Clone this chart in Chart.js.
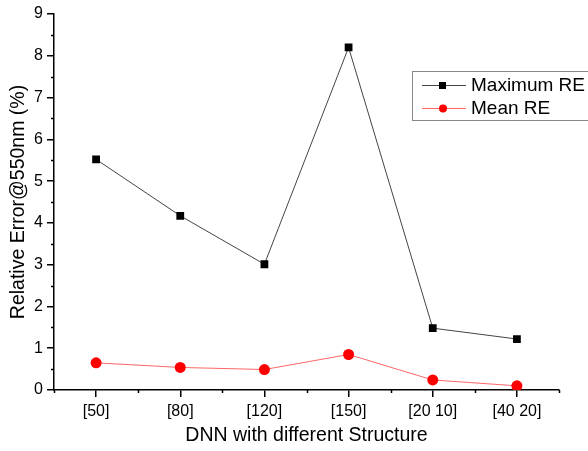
<!DOCTYPE html>
<html>
<head>
<meta charset="utf-8">
<script src="https://cdn.jsdelivr.net/npm/chart.js@4.4.0/dist/chart.umd.min.js"></script>
<style>
  html, body { margin: 0; padding: 0; background: #fff; }
  #wrap { width: 588px; height: 451px; }
</style>
</head>
<body>
<div id="wrap"><canvas id="reChart" width="588" height="451"></canvas></div>
<script>
// data
var structures = ["[50]", "[80]", "[120]", "[150]", "[20 10]", "[40 20]"];
var maxRE = [5.52, 4.17, 3.01, 8.2, 1.48, 1.22];
var meanRE = [0.65, 0.54, 0.49, 0.85, 0.24, 0.10];
var yTicks = [0, 1, 2, 3, 4, 5, 6, 7, 8, 9];

var fam = 'Arial, "Liberation Sans", sans-serif';

// minor ticks like Origin draws them
var minorTicks = {
  id: 'minorTicks',
  afterDraw: function (chart) {
    var ctx = chart.ctx;
    var x = chart.scales.x, y = chart.scales.y;
    ctx.save();
    ctx.strokeStyle = '#000';
    ctx.lineWidth = 1.5;
    ctx.beginPath();
    for (var v = 0.5; v < 9; v += 1) {
      var py = Math.round(y.getPixelForValue(v)) + 0.5;
      ctx.moveTo(x.left - 3, py);
      ctx.lineTo(x.left, py);
    }
    for (var i = 0; i <= structures.length; i++) {
      var px = Math.round(x.getPixelForValue(i - 0.5)) + 0.5;
      ctx.moveTo(px, y.bottom);
      ctx.lineTo(px, y.bottom + 3);
    }
    ctx.stroke();
    ctx.restore();
  }
};

// boxed legend inside the plot, top right
var boxLegend = {
  id: 'boxLegend',
  afterDraw: function (chart) {
    var ctx = chart.ctx;
    var bx = 412, by = 71, bw = 190, bh = 49;
    ctx.save();
    ctx.fillStyle = '#fff';
    ctx.fillRect(bx, by, bw, bh);
    ctx.strokeStyle = '#888';
    ctx.lineWidth = 1;
    ctx.strokeRect(bx + 0.5, by + 0.5, bw, bh);
    ctx.font = '19px ' + fam;
    ctx.textBaseline = 'middle';
    chart.data.datasets.forEach(function (ds, i) {
      var cy = by + 14 + i * 23;
      ctx.strokeStyle = ds.borderColor;
      ctx.lineWidth = 1;
      ctx.beginPath();
      ctx.moveTo(422, cy + 0.5);
      ctx.lineTo(466, cy + 0.5);
      ctx.stroke();
      ctx.fillStyle = ds.pointBackgroundColor;
      if (ds.pointStyle === 'rect') {
        ctx.fillRect(439, cy - 3, 7, 7);
      } else {
        ctx.beginPath();
        ctx.arc(443, cy + 0.5, 4, 0, Math.PI * 2);
        ctx.fill();
      }
      ctx.fillStyle = '#000';
      ctx.fillText(ds.label, 471, cy + 1);
    });
    ctx.restore();
  }
};

new Chart(document.getElementById('reChart'), {
  type: 'line',
  data: {
    labels: structures,
    datasets: [{
      label: 'Maximum RE',
      data: maxRE,
      borderColor: '#444',
      borderWidth: 1,
      pointStyle: 'rect',
      pointRadius: 5.5,
      pointBackgroundColor: '#000',
      pointBorderColor: '#000',
      pointBorderWidth: 0
    }, {
      label: 'Mean RE',
      data: meanRE,
      borderColor: '#ff6666',
      borderWidth: 1,
      pointStyle: 'circle',
      pointRadius: 5.5,
      pointBackgroundColor: '#ff0000',
      pointBorderColor: '#ff0000',
      pointBorderWidth: 0
    }]
  },
  options: {
    responsive: false,
    animation: false,
    layout: { padding: { top: 14, right: 29, left: 0, bottom: 0 } },
    plugins: { legend: { display: false }, tooltip: { enabled: false } },
    scales: {
      x: {
        type: 'category',
        offset: true,
        grid: { display: true, offset: false, drawOnChartArea: false, tickLength: 7, color: '#000', lineWidth: 1.5 },
        border: { color: '#000', width: 1.5 },
        ticks: { color: '#000', font: { size: 16, family: fam }, padding: 5, maxRotation: 0 },
        title: { display: true, text: 'DNN with different Structure', color: '#000', font: { size: 19.5, family: fam }, padding: { top: 6 } },
        afterFit: function (s) { s.height = 61; }
      },
      y: {
        min: 0,
        max: 9,
        afterBuildTicks: function (s) { s.ticks = yTicks.map(function (v) { return { value: v }; }); },
        grid: { display: true, drawOnChartArea: false, tickLength: 7, color: '#000', lineWidth: 1.5 },
        border: { color: '#000', width: 1.5 },
        ticks: { color: '#000', font: { size: 16, family: fam }, padding: 4 },
        title: { display: true, text: 'Relative Error@550nm (%)', color: '#000', font: { size: 19.5, family: fam }, padding: { top: 7, bottom: 0 } },
        afterFit: function (s) { s.width = 54; }
      }
    }
  },
  plugins: [minorTicks, boxLegend]
});
</script>
</body>
</html>
